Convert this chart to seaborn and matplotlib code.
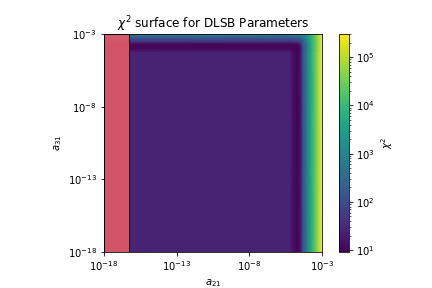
import numpy as np
import matplotlib
matplotlib.use("Agg")
import matplotlib.pyplot as plt
import seaborn as sns
from matplotlib.colors import LogNorm, to_rgba
from matplotlib.patches import Rectangle

# grid exponents (log10)
a21_exp = [-18, -5.2, -5.0, -4.7, -4.5, -4.3, -4.0, -3.7, -3.35, -3.0]
a31_exp = [-18, -4.25, -4.0, -3.7, -3.5, -3.3, -3.15, -3.0]

# chi^2 values, one row per a31 value, one column per a21 value
chi2_rows = [
    [25, 25, 14, 10, 14, 120, 1000, 7000, 40000, 300000],
    [25, 25, 14, 10, 14, 120, 1000, 7000, 40000, 300000],
    [11, 11, 10, 10, 13, 120, 1000, 7000, 40000, 300000],
    [11, 11, 11, 12, 20, 140, 1100, 7000, 40000, 300000],
    [45, 45, 50, 60, 80, 220, 1300, 7500, 40000, 300000],
    [120, 120, 130, 150, 200, 400, 1600, 8000, 42000, 300000],
    [300, 300, 320, 350, 450, 700, 2000, 9000, 45000, 300000],
    [1000, 1000, 1000, 1100, 1300, 1800, 3500, 12000, 50000, 300000],
]

# excluded a21 region (shaded)
excluded_a21 = [1e-18, 5.5e-17]

chi2_min = 9.2
chi2_max = 3e5
ticks = [1e-18, 1e-13, 1e-8, 1e-3]


def plot_chi2_surface():
    sns.set_style("ticks", {"axes.edgecolor": "black", "xtick.color": "black",
                            "ytick.color": "black", "text.color": "black",
                            "axes.labelcolor": "black"})
    plt.rcParams["font.family"] = ["DejaVu Sans"]
    plt.rcParams["font.size"] = 10

    cmap = sns.color_palette("viridis", as_cmap=True)

    fig = plt.figure(figsize=(6, 4), dpi=72)
    ax = fig.add_axes([104 / 432, 36 / 288, 218 / 432, 218 / 288])
    cax = fig.add_axes([339 / 432, 36 / 288, 10 / 432, 218 / 288])

    X, Y = np.meshgrid(10.0 ** np.array(a21_exp), 10.0 ** np.array(a31_exp))
    Z = np.array(chi2_rows, dtype=float)
    mesh = ax.pcolormesh(X, Y, Z, shading="gouraud", cmap=cmap,
                         norm=LogNorm(vmin=chi2_min, vmax=chi2_max))

    ax.add_patch(Rectangle((excluded_a21[0], 1e-18),
                           excluded_a21[1] - excluded_a21[0], 1e-3 - 1e-18,
                           facecolor=to_rgba("#df5868", 0.93),
                           edgecolor="black", linewidth=1, zorder=3))

    ax.set_xscale("log")
    ax.set_yscale("log")
    ax.set_xlim(1e-18, 1e-3)
    ax.set_ylim(1e-18, 1e-3)
    ax.set_xticks(ticks)
    ax.set_yticks(ticks)
    ax.minorticks_off()
    ax.set_xlabel("$a_{21}$")
    ax.set_ylabel("$a_{31}$")
    ax.set_title("$\\chi^2$ surface for DLSB Parameters", fontsize=12)

    cb = fig.colorbar(mesh, cax=cax)
    cb.set_label("$\\chi^2$")

    fig.savefig("out.png", dpi=72)
    plt.close(fig)


if __name__ == "__main__":
    plot_chi2_surface()
